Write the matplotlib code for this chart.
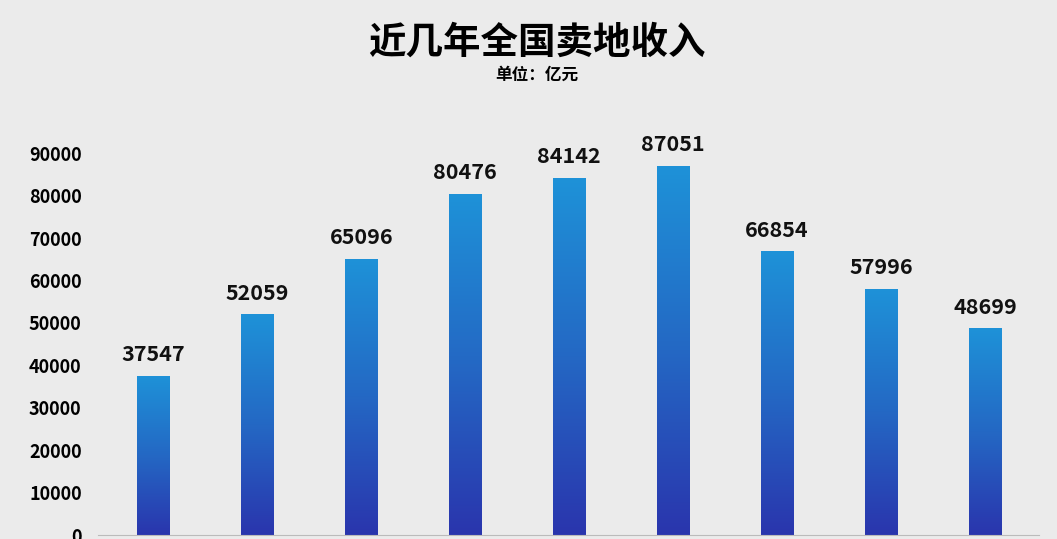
import matplotlib.pyplot as plt
import numpy as np
from matplotlib.colors import LinearSegmentedColormap

plt.rcParams['font.family'] = ['Noto Sans CJK SC', 'DejaVu Sans']

values = [37547, 52059, 65096, 80476, 84142, 87051, 66854, 57996, 48699]
yticks = [0, 10000, 20000, 30000, 40000, 50000, 60000, 70000, 80000, 90000]

fig = plt.figure(figsize=(10.57, 5.39), dpi=100)
fig.patch.set_facecolor('#ebebeb')
ax = fig.add_axes([0.093, 0.0074, 0.89, 0.751])
ax.set_facecolor('#ebebeb')

x = np.arange(len(values))
bars = ax.bar(x, values, width=0.31, color='none', edgecolor='none')
cmap = LinearSegmentedColormap.from_list('blu', ['#2a35ad', '#2468c4', '#1e92d8'])
grad = np.linspace(0, 1, 256).reshape(-1, 1)
for b, v in zip(bars, values):
    im = ax.imshow(grad, cmap=cmap, origin='lower', aspect='auto',
                   extent=[b.get_x(), b.get_x() + b.get_width(), 0, v], zorder=2)
    im.set_clip_path(b)
    ax.text(b.get_x() + b.get_width() / 2, v + 2500, str(v), ha='center', va='bottom',
            fontsize=15.5, fontweight='bold', color='#111111')

ax.set_xlim(-0.53, 8.52)
ax.set_ylim(0, 95430)
ax.set_yticks(yticks)
ax.set_yticklabels([str(t) for t in yticks], fontsize=13, fontweight='bold')
ax.set_xticks([])
ax.tick_params(axis='y', length=0, pad=12)
for s in ['top', 'right', 'left']:
    ax.spines[s].set_visible(False)
ax.spines['bottom'].set_color('#bbbbbb')

fig.text(0.508, 0.922, '近几年全国卖地收入', ha='center', va='center', fontsize=27, fontweight='bold')
fig.text(0.508, 0.862, '单位：亿元', ha='center', va='center', fontsize=12, fontweight='bold')

fig.savefig('out.png', dpi=100, facecolor=fig.get_facecolor())
